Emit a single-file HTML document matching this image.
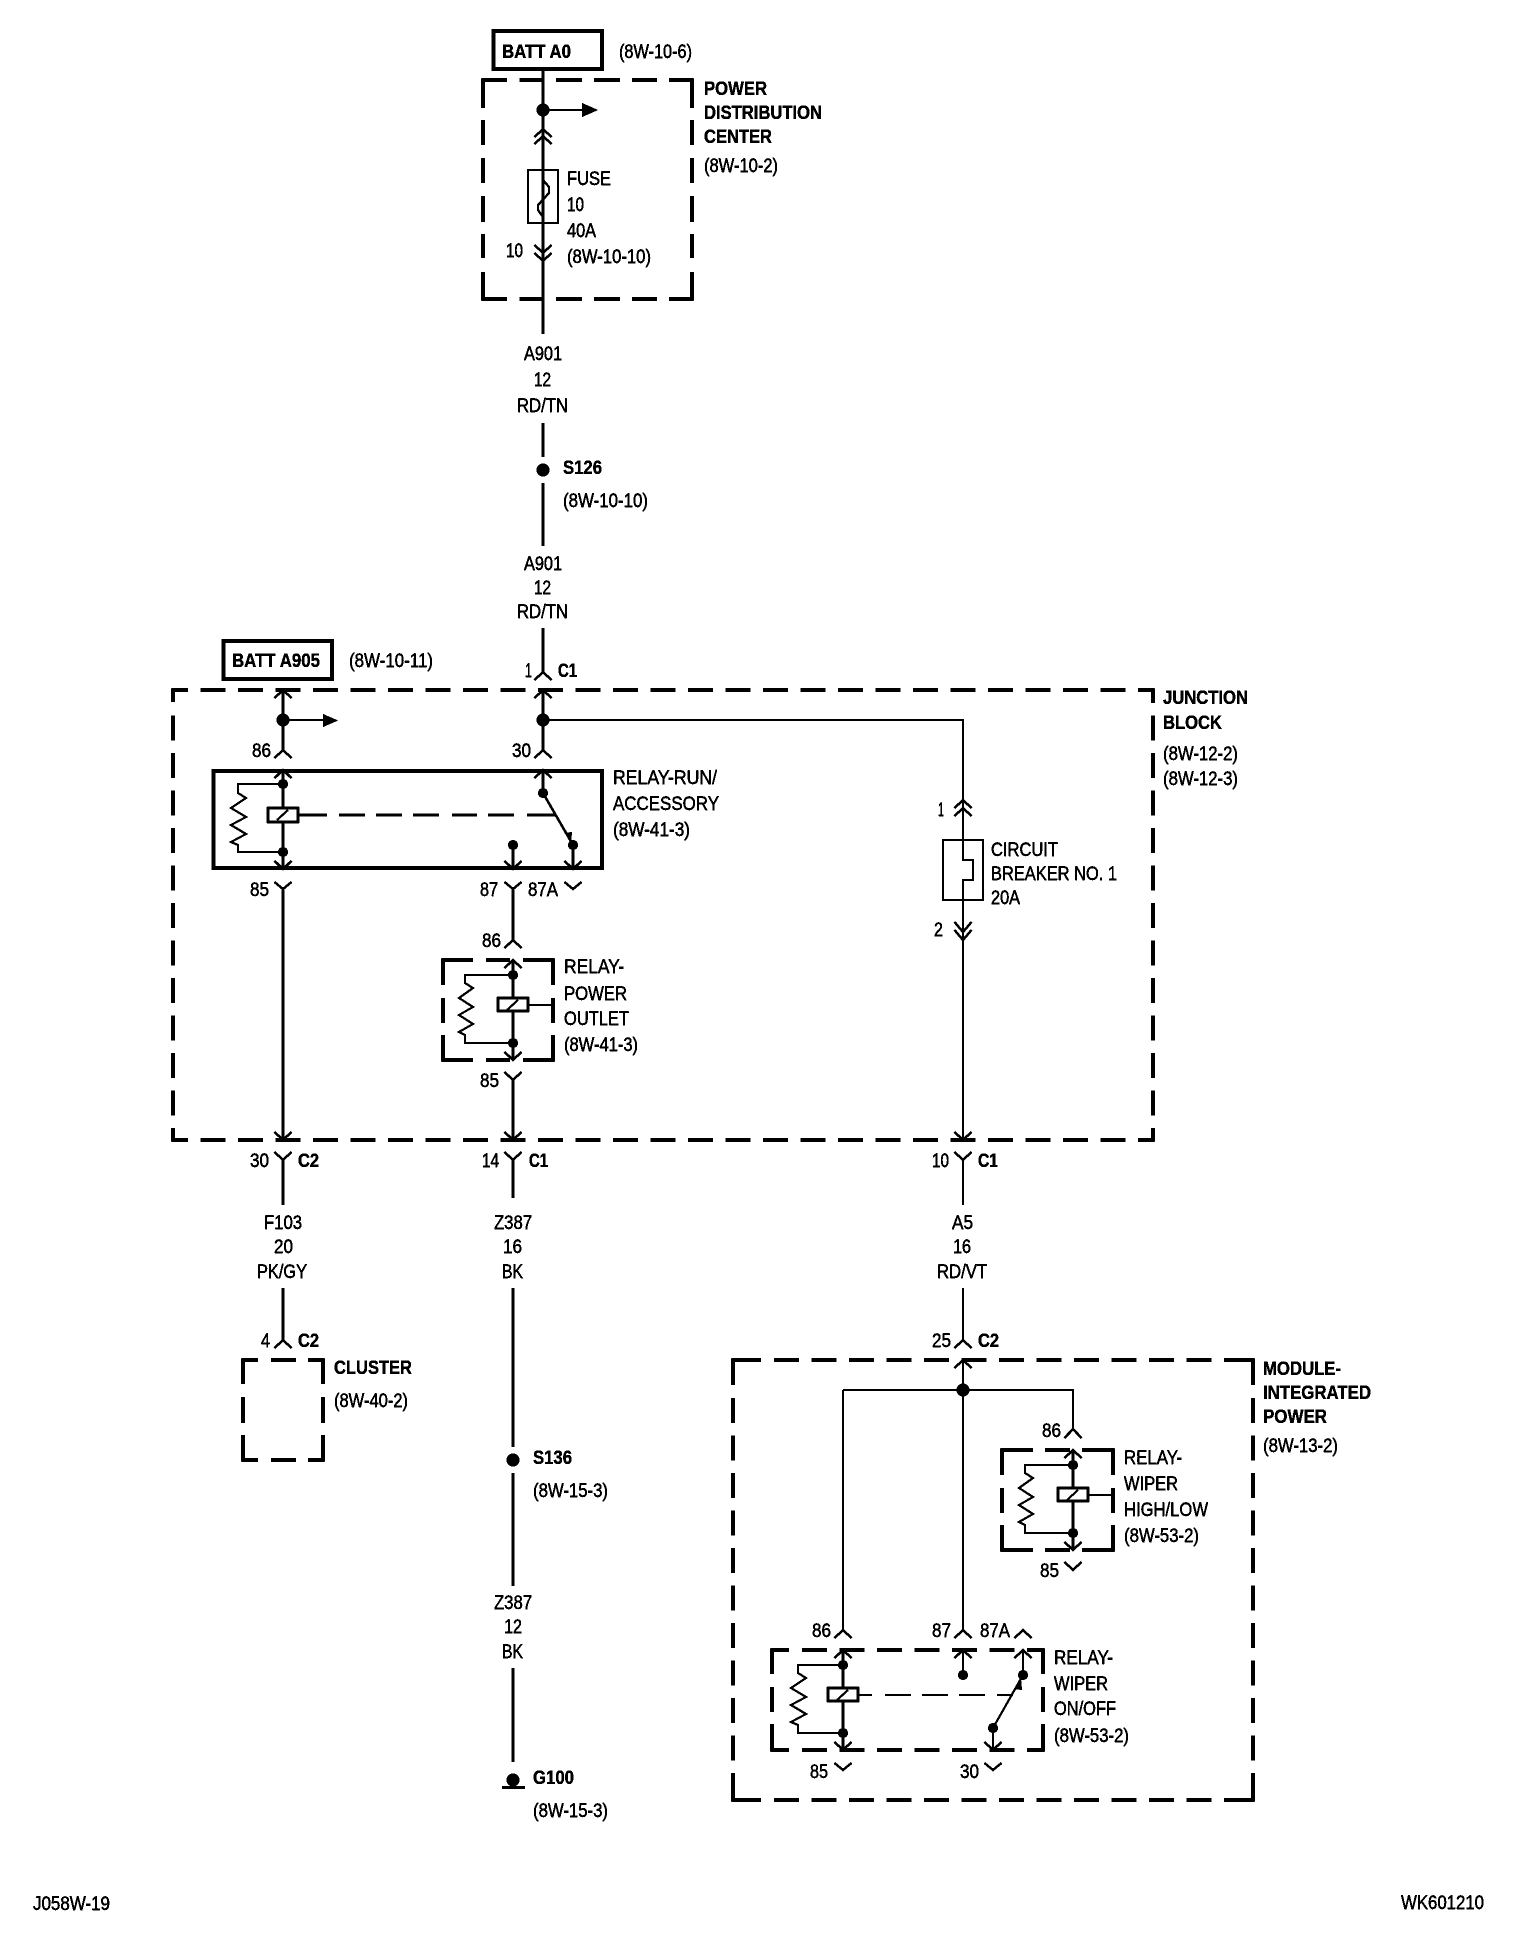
<!DOCTYPE html>
<html><head><meta charset="utf-8"><title>Wiring diagram</title>
<style>
html,body{margin:0;padding:0;background:#fff}
svg{display:block}
text{font-family:"Liberation Sans",sans-serif;font-size:19px;fill:#000;stroke:#000;stroke-width:.4px}
.b{font-weight:bold;stroke-width:.25px}
</style></head><body>
<svg xmlns="http://www.w3.org/2000/svg" width="1520" height="1936" viewBox="0 0 1520 1936">
<defs>
<filter id="th" filterUnits="userSpaceOnUse" x="0" y="0" width="1520" height="1936" color-interpolation-filters="sRGB">
<feComponentTransfer><feFuncR type="discrete" tableValues="0 0 1"/><feFuncG type="discrete" tableValues="0 0 1"/><feFuncB type="discrete" tableValues="0 0 1"/></feComponentTransfer>
</filter>
</defs>
<g filter="url(#th)">
<rect width="1520" height="1936" fill="#fff"/>

<!-- boxes -->
<g fill="none" stroke="#000" stroke-width="3.6">
<rect x="493.5" y="31" width="108.500" height="38"/>
<rect x="223.500" y="641" width="108.500" height="38"/>
<rect x="213.500" y="771" width="388.500" height="97" stroke-width="4"/>
<!-- PDC -->
<path d="M507 80H483V108M669 80H692V108M483 272V299H507M692 272V299H669M519.5 80H544M556 80H582M594 80H620M632 80H657M519.5 299H544M556 299H582M594 299H620M632 299H657M483 120V145M483 158V183M483 196V222M483 234V258M692 120V145M692 158V183M692 196V222M692 234V258"/>
<!-- Junction -->
<path d="M188 690H173V702M1138 690H1153V703M173 1128V1140H188M1153 1128V1140H1138"/>
<path d="M200.5 690H1126M200.5 1140H1126M173 715.5V1116M1153 715.5V1116" stroke-dasharray="25 12.5"/>
<!-- Cluster -->
<path d="M258 1360H243V1384M308 1360H323V1384M243 1435V1460H258M323 1435V1460H308M271 1360H296M271 1460H296M243 1397V1423M323 1397V1423"/>
<!-- Module -->
<path d="M761 1360H733V1385M1224 1360H1253V1385M733 1773V1800H761M1253 1773V1800H1224"/>
<path d="M774 1360H1212M774 1800H1212M733 1398V1761M1253 1398V1761" stroke-dasharray="25 12.5"/>
<!-- Relay power outlet -->
<path d="M473 960H443V985M523 960H553V985M443 1035V1060H473M553 1035V1060H523M486 960H510M486 1060H510M443 998V1023M553 998V1023"/>
<!-- Relay high/low -->
<path d="M1033 1450H1002V1475M1082 1450H1113V1475M1002 1525V1550H1033M1113 1525V1550H1082M1045 1450H1070M1045 1550H1070M1002 1488V1513M1113 1488V1513"/>
<!-- Relay on/off -->
<path d="M789 1650H772V1674M1027 1650H1043V1674M772 1724V1750H789M1043 1724V1750H1027M772 1687V1712M1043 1687V1712"/>
<path d="M802 1650H1015M802 1750H1015" stroke-dasharray="25 12.5"/>
</g>

<!-- thick wires -->
<path fill="none" stroke="#000" stroke-width="2.9" d="M543 71V334M543 423V457M543 483V546M543 628V672M543 690V750M283 690V750M283 889V1140M513 889V940M513 1080V1140M283 1160V1205M513 1160V1198M283 1288V1340M513 1288V1447M513 1473V1586M513 1668V1762M543 770V793M513 845V869M573 845V869"/>

<!-- thin wires -->
<path fill="none" stroke="#000" stroke-width="2.1" d="M543 110H582M283 720H323M543 720H963V860H973V880H963V1140M963 1160V1205M963 1288V1340M963 1360V1630M843 1390V1630M843 1390H1073V1429M963 1650V1675M1023 1650V1675M993 1728V1750"/>
<path fill="none" stroke="#000" stroke-width="2.1" d="M528 170H558V223H528ZM943 840H983V900H943Z"/>
<path fill="none" stroke="#000" stroke-width="2.3" stroke-linejoin="round" d="M543 170V180L549 187V193L538 205V210L543 217V223"/>

<!-- chevrons / connectors -->
<path fill="none" stroke="#000" stroke-width="2.4" d="
M534.5 137L543 129L551.5 137M534.5 144L543 136L551.5 144
M534.5 253L543 261L551.5 253M534.5 245L543 253L551.5 245
M534.5 680L543 672L551.5 680M534.5 698L543 690L551.5 698
M274.5 698L283 690L291.5 698M274.5 758L283 750L291.5 758M534.5 758L543 750L551.5 758
M274.5 778L283 770L291.5 778M534.5 778L543 770L551.5 778
M274.5 861L283 869L291.5 861M504.5 861L513 869L521.5 861M564.5 861L573 869L581.5 861
M274.5 882L283 889L291.5 882M504.5 882L513 889L521.5 882M564.5 882L573 889L581.5 882
M504.5 948L513 940L521.5 948M504.5 1072L513 1080L521.5 1072
M954.5 808L963 800L971.5 808M954.5 816L963 808L971.5 816
M954.5 922L963 932L971.5 922M954.5 930L963 940L971.5 930
M274.5 1132L283 1140L291.5 1132M504.5 1132L513 1140L521.5 1132M954.5 1132L963 1140L971.5 1132
M274.5 1152L283 1160L291.5 1152M504.5 1152L513 1160L521.5 1152M954.5 1152L963 1160L971.5 1152
M274.5 1348L283 1340L291.5 1348M954.5 1348L963 1340L971.5 1348
M954.5 1368L963 1360L971.5 1368M1064.5 1438L1073 1429L1081.5 1438
M1064.5 1562L1073 1570L1081.5 1562
M834.5 1638L843 1630L851.5 1638M954.5 1638L963 1630L971.5 1638M1014.5 1638L1023 1630L1031.5 1638
M954.5 1658L963 1650L971.5 1658M1014.5 1658L1023 1650L1031.5 1658
M984.5 1742L993 1750L1001.5 1742
M834.5 1763L843 1770L851.5 1763M984.5 1763L993 1770L1001.5 1763"/>

<!-- relay cores -->
<g transform="translate(213,770)" fill="none" stroke="#000">
<path stroke-width="2.1" d="M70 14H25V23L33 28L18 38L33 47L18 55L33 64L18 72L25 75V82H70"/>
<path stroke-width="2.9" d="M70 0V99"/>
<path stroke-width="2.4" d="M61.500 8L70 0L78.500 8M61.500 91L70 99L78.500 91"/>
<rect x="55" y="38" width="30" height="14" fill="#fff" stroke-width="2.4"/><path stroke-width="2.1" d="M64 50L75 40"/>
<circle cx="70" cy="14" r="5" fill="#000" stroke="none"/><circle cx="70" cy="82" r="5" fill="#000" stroke="none"/>
</g>
<g transform="translate(443,960)" fill="none" stroke="#000">
<path stroke-width="2.1" d="M70 15H22V23L30 28L16 38L30 47L16 55L30 64L16 72L22 75V83H70"/>
<path stroke-width="2.9" d="M70 0V100"/>
<path stroke-width="2.4" d="M61.500 8L70 0L78.500 8M61.500 92L70 100L78.500 92"/>
<rect x="55" y="38" width="30" height="13" fill="#fff" stroke-width="2.4"/><path stroke-width="2.1" d="M64 50L75 40M85 45H110"/>
<circle cx="70" cy="15" r="5" fill="#000" stroke="none"/><circle cx="70" cy="83" r="5" fill="#000" stroke="none"/>
</g>
<g transform="translate(1003,1450)" fill="none" stroke="#000">
<path stroke-width="2.1" d="M70 15H22V23L30 28L16 38L30 47L16 55L30 64L16 72L22 75V83H70"/>
<path stroke-width="2.9" d="M70 0V100"/>
<path stroke-width="2.4" d="M61.500 8L70 0L78.500 8M61.500 92L70 100L78.500 92"/>
<rect x="55" y="38" width="30" height="13" fill="#fff" stroke-width="2.4"/><path stroke-width="2.1" d="M64 50L75 40M85 45H110"/>
<circle cx="70" cy="15" r="5" fill="#000" stroke="none"/><circle cx="70" cy="83" r="5" fill="#000" stroke="none"/>
</g>
<g transform="translate(773,1650)" fill="none" stroke="#000">
<path stroke-width="2.1" d="M70 15H25V23L33 28L18 38L33 47L18 55L33 64L18 72L25 75V83H70"/>
<path stroke-width="2.9" d="M70 0V100"/>
<path stroke-width="2.4" d="M61.500 8L70 0L78.500 8M61.500 92L70 100L78.500 92"/>
<rect x="55" y="38" width="30" height="13" fill="#fff" stroke-width="2.4"/><path stroke-width="2.1" d="M64 50L75 40"/>
<circle cx="70" cy="15" r="5" fill="#000" stroke="none"/><circle cx="70" cy="83" r="5" fill="#000" stroke="none"/>
</g>

<!-- relay linkages -->
<path fill="none" stroke="#000" stroke-width="2.4" d="M298 815H327M339 815H365M376 815H402M413 815H439M452 815H477M488 815H514M527 815H555M543 793L573 845"/>
<path fill="none" stroke="#000" stroke-width="2.1" d="M858 1695H872M885 1695H911M922 1695H948M959 1695H985M997 1695H1013M1023 1675L993 1728"/>
<path d="M565 833L571 843L572 832ZM1021 1679L1015 1689L1022 1690Z" fill="#000"/>

<!-- dots -->
<g fill="#000">
<circle cx="543" cy="110" r="6.500"/><circle cx="283" cy="720" r="6.500"/><circle cx="543" cy="720" r="6.500"/><circle cx="963" cy="1390" r="6.500"/>
<circle cx="543" cy="470" r="6.500"/><circle cx="513" cy="1460" r="6.500"/><circle cx="513" cy="1780" r="6.500"/>
<circle cx="543" cy="793" r="5"/><circle cx="513" cy="845" r="5"/><circle cx="573" cy="845" r="5"/>
<circle cx="963" cy="1675" r="5"/><circle cx="1023" cy="1675" r="5"/><circle cx="993" cy="1728" r="5"/>
<path d="M582 103L598 110L582 117ZM323 714L338 720.500L323 727Z"/>
<rect x="502" y="1786" width="23" height="3"/>
</g>

<!-- text -->
<g transform="translate(0,-1)">
<text class="b" x="502" y="59" textLength="69" lengthAdjust="spacingAndGlyphs">BATT A0</text>
<text x="619" y="59" textLength="73" lengthAdjust="spacingAndGlyphs">(8W-10-6)</text>
<text class="b" x="704" y="96" textLength="63" lengthAdjust="spacingAndGlyphs">POWER</text>
<text class="b" x="704" y="120" textLength="118" lengthAdjust="spacingAndGlyphs">DISTRIBUTION</text>
<text class="b" x="704" y="144" textLength="68" lengthAdjust="spacingAndGlyphs">CENTER</text>
<text x="704" y="173" textLength="74" lengthAdjust="spacingAndGlyphs">(8W-10-2)</text>
<text x="567" y="186" textLength="44" lengthAdjust="spacingAndGlyphs">FUSE</text>
<text x="567" y="212" textLength="17" lengthAdjust="spacingAndGlyphs">10</text>
<text x="567" y="238" textLength="29" lengthAdjust="spacingAndGlyphs">40A</text>
<text x="567" y="264" textLength="84" lengthAdjust="spacingAndGlyphs">(8W-10-10)</text>
<text x="506" y="258" textLength="17" lengthAdjust="spacingAndGlyphs">10</text>

<text x="524" y="361" textLength="38" lengthAdjust="spacingAndGlyphs">A901</text>
<text x="534" y="387" textLength="17" lengthAdjust="spacingAndGlyphs">12</text>
<text x="517" y="413" textLength="51" lengthAdjust="spacingAndGlyphs">RD/TN</text>
<text class="b" x="563" y="475" textLength="39" lengthAdjust="spacingAndGlyphs">S126</text>
<text x="563" y="508" textLength="85" lengthAdjust="spacingAndGlyphs">(8W-10-10)</text>
<text x="524" y="571" textLength="38" lengthAdjust="spacingAndGlyphs">A901</text>
<text x="534" y="595" textLength="17" lengthAdjust="spacingAndGlyphs">12</text>
<text x="517" y="619" textLength="51" lengthAdjust="spacingAndGlyphs">RD/TN</text>

<text class="b" x="232" y="668" textLength="88" lengthAdjust="spacingAndGlyphs">BATT A905</text>
<text x="349" y="668" textLength="84" lengthAdjust="spacingAndGlyphs">(8W-10-11)</text>
<text x="525" y="678" textLength="7" lengthAdjust="spacingAndGlyphs">1</text>
<text class="b" x="558" y="678" textLength="19" lengthAdjust="spacingAndGlyphs">C1</text>
<text x="252" y="758" textLength="19" lengthAdjust="spacingAndGlyphs">86</text>
<text x="512" y="758" textLength="19" lengthAdjust="spacingAndGlyphs">30</text>
<text x="613" y="785" textLength="104" lengthAdjust="spacingAndGlyphs">RELAY-RUN/</text>
<text x="613" y="811" textLength="106" lengthAdjust="spacingAndGlyphs">ACCESSORY</text>
<text x="613" y="837" textLength="77" lengthAdjust="spacingAndGlyphs">(8W-41-3)</text>
<text x="250" y="897" textLength="19" lengthAdjust="spacingAndGlyphs">85</text>
<text x="480" y="897" textLength="18" lengthAdjust="spacingAndGlyphs">87</text>
<text x="528" y="897" textLength="30" lengthAdjust="spacingAndGlyphs">87A</text>
<text x="482" y="948" textLength="19" lengthAdjust="spacingAndGlyphs">86</text>
<text x="564" y="974" textLength="60" lengthAdjust="spacingAndGlyphs">RELAY-</text>
<text x="564" y="1001" textLength="63" lengthAdjust="spacingAndGlyphs">POWER</text>
<text x="564" y="1026" textLength="65" lengthAdjust="spacingAndGlyphs">OUTLET</text>
<text x="564" y="1052" textLength="74" lengthAdjust="spacingAndGlyphs">(8W-41-3)</text>
<text x="480" y="1088" textLength="19" lengthAdjust="spacingAndGlyphs">85</text>

<text x="938" y="817" textLength="6" lengthAdjust="spacingAndGlyphs">1</text>
<text x="934" y="937" textLength="9" lengthAdjust="spacingAndGlyphs">2</text>
<text x="991" y="857" textLength="67" lengthAdjust="spacingAndGlyphs">CIRCUIT</text>
<text x="991" y="881" textLength="126" lengthAdjust="spacingAndGlyphs">BREAKER NO. 1</text>
<text x="991" y="905" textLength="29" lengthAdjust="spacingAndGlyphs">20A</text>
<text class="b" x="1163" y="705" textLength="85" lengthAdjust="spacingAndGlyphs">JUNCTION</text>
<text class="b" x="1163" y="730" textLength="59" lengthAdjust="spacingAndGlyphs">BLOCK</text>
<text x="1163" y="761" textLength="75" lengthAdjust="spacingAndGlyphs">(8W-12-2)</text>
<text x="1163" y="786" textLength="75" lengthAdjust="spacingAndGlyphs">(8W-12-3)</text>

<text x="250" y="1168" textLength="19" lengthAdjust="spacingAndGlyphs">30</text>
<text class="b" x="298" y="1168" textLength="21" lengthAdjust="spacingAndGlyphs">C2</text>
<text x="482" y="1168" textLength="17" lengthAdjust="spacingAndGlyphs">14</text>
<text class="b" x="529" y="1168" textLength="19" lengthAdjust="spacingAndGlyphs">C1</text>
<text x="932" y="1168" textLength="17" lengthAdjust="spacingAndGlyphs">10</text>
<text class="b" x="978" y="1168" textLength="20" lengthAdjust="spacingAndGlyphs">C1</text>

<text x="264" y="1230" textLength="38" lengthAdjust="spacingAndGlyphs">F103</text>
<text x="274" y="1254" textLength="19" lengthAdjust="spacingAndGlyphs">20</text>
<text x="257" y="1279" textLength="50" lengthAdjust="spacingAndGlyphs">PK/GY</text>
<text x="494" y="1230" textLength="38" lengthAdjust="spacingAndGlyphs">Z387</text>
<text x="503" y="1254" textLength="19" lengthAdjust="spacingAndGlyphs">16</text>
<text x="502" y="1279" textLength="21" lengthAdjust="spacingAndGlyphs">BK</text>
<text x="952" y="1230" textLength="21" lengthAdjust="spacingAndGlyphs">A5</text>
<text x="953" y="1254" textLength="18" lengthAdjust="spacingAndGlyphs">16</text>
<text x="937" y="1279" textLength="50" lengthAdjust="spacingAndGlyphs">RD/VT</text>

<text x="261" y="1348" textLength="9" lengthAdjust="spacingAndGlyphs">4</text>
<text class="b" x="298" y="1348" textLength="21" lengthAdjust="spacingAndGlyphs">C2</text>
<text x="932" y="1348" textLength="19" lengthAdjust="spacingAndGlyphs">25</text>
<text class="b" x="978" y="1348" textLength="21" lengthAdjust="spacingAndGlyphs">C2</text>
<text class="b" x="334" y="1375" textLength="78" lengthAdjust="spacingAndGlyphs">CLUSTER</text>
<text x="334" y="1408" textLength="74" lengthAdjust="spacingAndGlyphs">(8W-40-2)</text>

<text class="b" x="533" y="1465" textLength="39" lengthAdjust="spacingAndGlyphs">S136</text>
<text x="533" y="1498" textLength="75" lengthAdjust="spacingAndGlyphs">(8W-15-3)</text>
<text x="494" y="1610" textLength="38" lengthAdjust="spacingAndGlyphs">Z387</text>
<text x="504" y="1634" textLength="18" lengthAdjust="spacingAndGlyphs">12</text>
<text x="502" y="1659" textLength="21" lengthAdjust="spacingAndGlyphs">BK</text>
<text class="b" x="533" y="1785" textLength="41" lengthAdjust="spacingAndGlyphs">G100</text>
<text x="533" y="1818" textLength="75" lengthAdjust="spacingAndGlyphs">(8W-15-3)</text>

<text class="b" x="1263" y="1376" textLength="78" lengthAdjust="spacingAndGlyphs">MODULE-</text>
<text class="b" x="1263" y="1400" textLength="108" lengthAdjust="spacingAndGlyphs">INTEGRATED</text>
<text class="b" x="1263" y="1424" textLength="64" lengthAdjust="spacingAndGlyphs">POWER</text>
<text x="1263" y="1453" textLength="75" lengthAdjust="spacingAndGlyphs">(8W-13-2)</text>
<text x="1042" y="1438" textLength="19" lengthAdjust="spacingAndGlyphs">86</text>
<text x="1124" y="1465" textLength="58" lengthAdjust="spacingAndGlyphs">RELAY-</text>
<text x="1124" y="1491" textLength="54" lengthAdjust="spacingAndGlyphs">WIPER</text>
<text x="1124" y="1517" textLength="84" lengthAdjust="spacingAndGlyphs">HIGH/LOW</text>
<text x="1124" y="1543" textLength="75" lengthAdjust="spacingAndGlyphs">(8W-53-2)</text>
<text x="1040" y="1578" textLength="19" lengthAdjust="spacingAndGlyphs">85</text>
<text x="812" y="1638" textLength="19" lengthAdjust="spacingAndGlyphs">86</text>
<text x="932" y="1638" textLength="19" lengthAdjust="spacingAndGlyphs">87</text>
<text x="980" y="1638" textLength="30" lengthAdjust="spacingAndGlyphs">87A</text>
<text x="1054" y="1665" textLength="59" lengthAdjust="spacingAndGlyphs">RELAY-</text>
<text x="1054" y="1691" textLength="54" lengthAdjust="spacingAndGlyphs">WIPER</text>
<text x="1054" y="1716" textLength="62" lengthAdjust="spacingAndGlyphs">ON/OFF</text>
<text x="1054" y="1743" textLength="75" lengthAdjust="spacingAndGlyphs">(8W-53-2)</text>
<text x="810" y="1779" textLength="18" lengthAdjust="spacingAndGlyphs">85</text>
<text x="960" y="1779" textLength="19" lengthAdjust="spacingAndGlyphs">30</text>

<text x="33" y="1911" textLength="77" lengthAdjust="spacingAndGlyphs">J058W-19</text>
<text x="1401" y="1910" textLength="83" lengthAdjust="spacingAndGlyphs">WK601210</text>
</g>
</g>
</svg>
</body></html>
